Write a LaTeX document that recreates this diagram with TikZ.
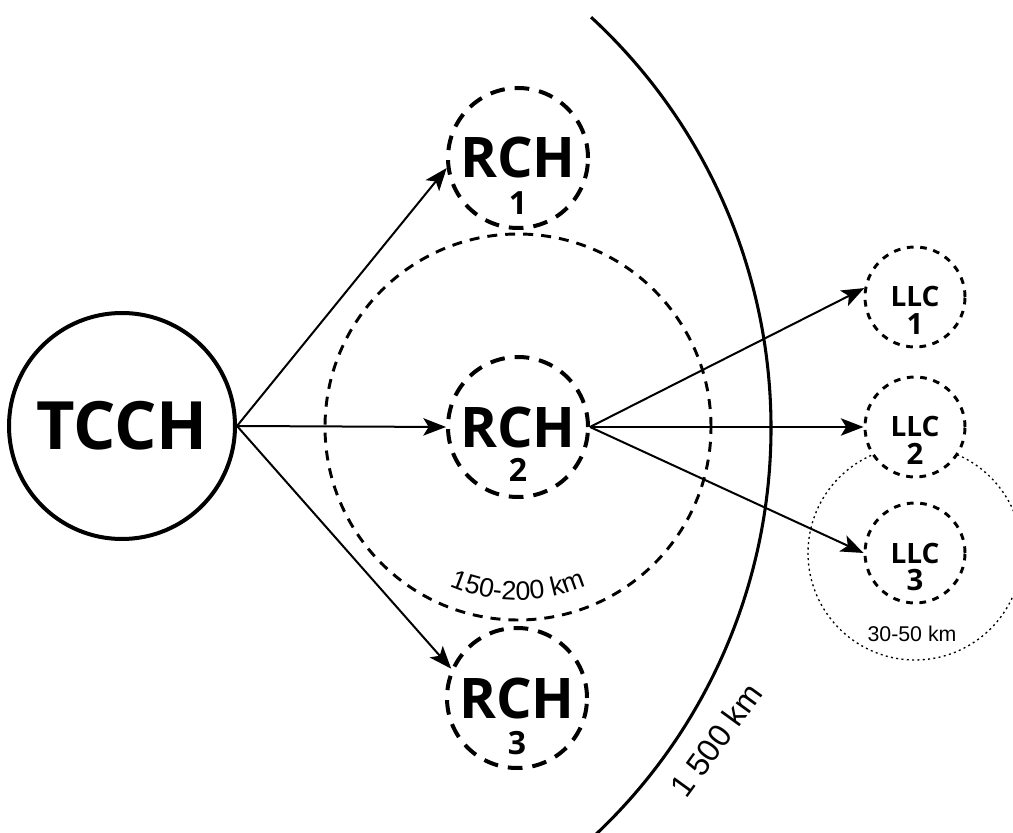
\documentclass[tikz,border=0pt]{standalone}
\usepackage{fontspec}
\setmainfont{Liberation Sans}
\newfontfamily\hubfont{Open Sans}
\usetikzlibrary{arrows.meta,decorations.text}

\begin{document}
\begin{tikzpicture}[x=0.75pt, y=0.75pt,
    hub/.style={draw, circle, fill=white, line width=3pt, inner sep=0pt, minimum size=169.5pt,
        font=\hubfont\bfseries\fontsize{50}{50}\selectfont},
    rch/.style={draw, circle, fill=white, line width=3pt, dash pattern=on 11pt off 7.5pt,
        inner sep=0pt, minimum size=105pt, font=\hubfont\bfseries\fontsize{42}{42}\selectfont},
    llc/.style={draw, circle, fill=white, line width=2.2pt, dash pattern=on 5pt off 5pt,
        inner sep=0pt, minimum size=75pt, font=\hubfont\bfseries\fontsize{21}{21}\selectfont},
    rchnum/.style={inner sep=0pt, font=\hubfont\bfseries\fontsize{24}{24}\selectfont},
    llcnum/.style={inner sep=0pt, font=\hubfont\bfseries\fontsize{22}{22}\selectfont},
    zone/.style={draw, circle, line width=2.2pt, dash pattern=on 7.5pt off 6pt, inner sep=0pt},
    localzone/.style={draw, circle, line width=1pt, dash pattern=on 1.5pt off 2.5pt, inner sep=0pt},
    link/.style={-{Stealth[length=17pt, width=13pt, inset=4pt]}, line width=1.5pt},
]
    \useasboundingbox (0,0) rectangle (1013,832);

    % 1 500 km range
    \draw[line width=2.3pt] (212,404) ++(-47:559) arc[start angle=-47, end angle=47.3, radius=559];
    \node[rotate=54, inner sep=0pt, font=\fontsize{24}{24}\selectfont] (range) at (716,92) {1 500 km};

    % regional and local zones
    \node[zone, minimum size=289.5pt] (reg) at (518,405) {};
    \node[localzone, minimum size=160.5pt] (loc) at (915,279) {};
    \path[decorate, decoration={text along path, text align=center,
        text={|\fontsize{20}{20}\selectfont|150-200 km}}]
        (reg.center) ++(212:173) arc[start angle=212, end angle=328, radius=173];
    \node[font=\fontsize{16}{16}\selectfont] (span) at (912,198) {30-50 km};

    \node[hub] (tcch) at (122,406) {TCCH};

    \node[rch] (rch1) at (518,674) {RCH};
    \node[rch] (rch2) at (reg) {RCH};
    \node[rch] (rch3) at (517,134) {RCH};
    \node[rchnum] (n1) at ([yshift=-34pt]rch1.center) {1};
    \node[rchnum] (n2) at ([yshift=-32pt]rch2.center) {2};
    \node[rchnum] (n3) at ([yshift=-34pt]rch3.center) {3};

    \node[llc] (llc1) at (915,535) {LLC};
    \node[llc] (llc2) at (915,405) {LLC};
    \node[llc] (llc3) at (loc) {LLC};
    \node[llcnum] (m1) at ([yshift=-20pt]llc1.center) {1};
    \node[llcnum] (m2) at ([yshift=-20pt]llc2.center) {2};
    \node[llcnum] (m3) at ([yshift=-20pt]llc3.center) {3};

    \draw[link] (tcch.east) -- (rch1.188);
    \draw[link] (tcch.east) -- (rch2.west);
    \draw[link] (tcch.east) -- (rch3.156);

    \draw[link] (rch2.east) -- (llc1.170);
    \draw[link] (rch2.east) -- (llc2.west);
    \draw[link] (rch2.east) -- (llc3.west);
\end{tikzpicture}
\end{document}
